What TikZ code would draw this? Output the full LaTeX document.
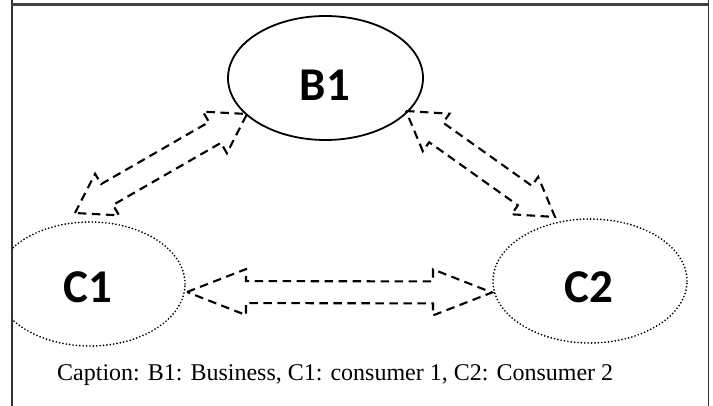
\documentclass[tikz,border=0pt]{standalone}
\usepackage{fontspec}
\setmainfont{Liberation Serif}
\newfontfamily\lblfont{Carlito}
\usetikzlibrary{calc,shapes.geometric}
\newcommand{\hollowdblarrow}[5]{%
  \draw[arrowline] (#1)
    -- ($(#1)!#3!(#2)!#4!90:(#2)$)
    -- ($(#1)!#3!(#2)!#5!90:(#2)$)
    -- ($(#2)!#3!(#1)!#5!-90:(#1)$)
    -- ($(#2)!#3!(#1)!#4!-90:(#1)$)
    -- (#2)
    -- ($(#2)!#3!(#1)!#4!90:(#1)$)
    -- ($(#2)!#3!(#1)!#5!90:(#1)$)
    -- ($(#1)!#3!(#2)!#5!-90:(#2)$)
    -- ($(#1)!#3!(#2)!#4!-90:(#2)$)
    -- cycle;}
\begin{document}
\begin{tikzpicture}[x=1pt,y=-1pt,
  framestyle/.style={draw=black!80,line width=1.2pt},
  topstyle/.style={draw=black!75,line width=2.2pt},
  solidell/.style={draw,ellipse,line width=1.8pt,inner sep=0pt},
  dotell/.style={draw,ellipse,line width=1.9pt,dash pattern=on 0pt off 3.4pt,line cap=round,inner sep=0pt},
  lbl/.style={font=\lblfont\bfseries\fontsize{47}{47}\selectfont,inner sep=0pt},
  arrowline/.style={line width=2.1pt,dash pattern=on 8.5pt off 5.5pt},
  captionstyle/.style={font=\fontsize{24}{28}\selectfont,inner sep=0pt,anchor=base west}]
\useasboundingbox (0,0) rectangle (713,406);
% frame
\coordinate (FL0) at (12,0);
\coordinate (FL1) at (12,406);
\coordinate (FR0) at (708.5,0);
\coordinate (FR1) at (708.5,406);
\coordinate (FT0) at (12,4.5);
\coordinate (FT1) at (708.5,4.5);
\draw[framestyle] (FL0) -- (FL1);
\draw[framestyle] (FR0) -- (FR1);
\draw[topstyle] (FT0) -- (FT1);
% nodes
\node[solidell,minimum width=195pt,minimum height=124pt] (B1) at (325.5,78) {};
\node[lbl] (B1t) at (325,85) {B1};
\begin{scope}
  \clip (12,0) rectangle (713,406);
  \node[dotell,minimum width=190pt,minimum height=124pt] (C1) at (90,284) {};
\end{scope}
\node[lbl] (C1t) at (88,287) {C1};
\node[dotell,minimum width=194pt,minimum height=124pt] (C2) at (590,281) {};
\node[lbl] (C2t) at (589,287) {C2};
% arrow tips
\coordinate (hL) at (187,292);
\coordinate (hR) at (492,292.5);
\coordinate (d1a) at (75,213);
\coordinate (d1b) at (247,114);
\coordinate (d2a) at (406,111);
\coordinate (d2b) at (555,217);
\hollowdblarrow{hL}{hR}{59pt}{23pt}{11pt}
\hollowdblarrow{d1a}{d1b}{37pt}{24pt}{12pt}
\hollowdblarrow{d2a}{d2b}{37pt}{23pt}{12pt}
% caption
\node[captionstyle] (cap) at (57,381) {Caption: B1: Business, C1: consumer 1, C2: Consumer 2};
\end{tikzpicture}
\end{document}
